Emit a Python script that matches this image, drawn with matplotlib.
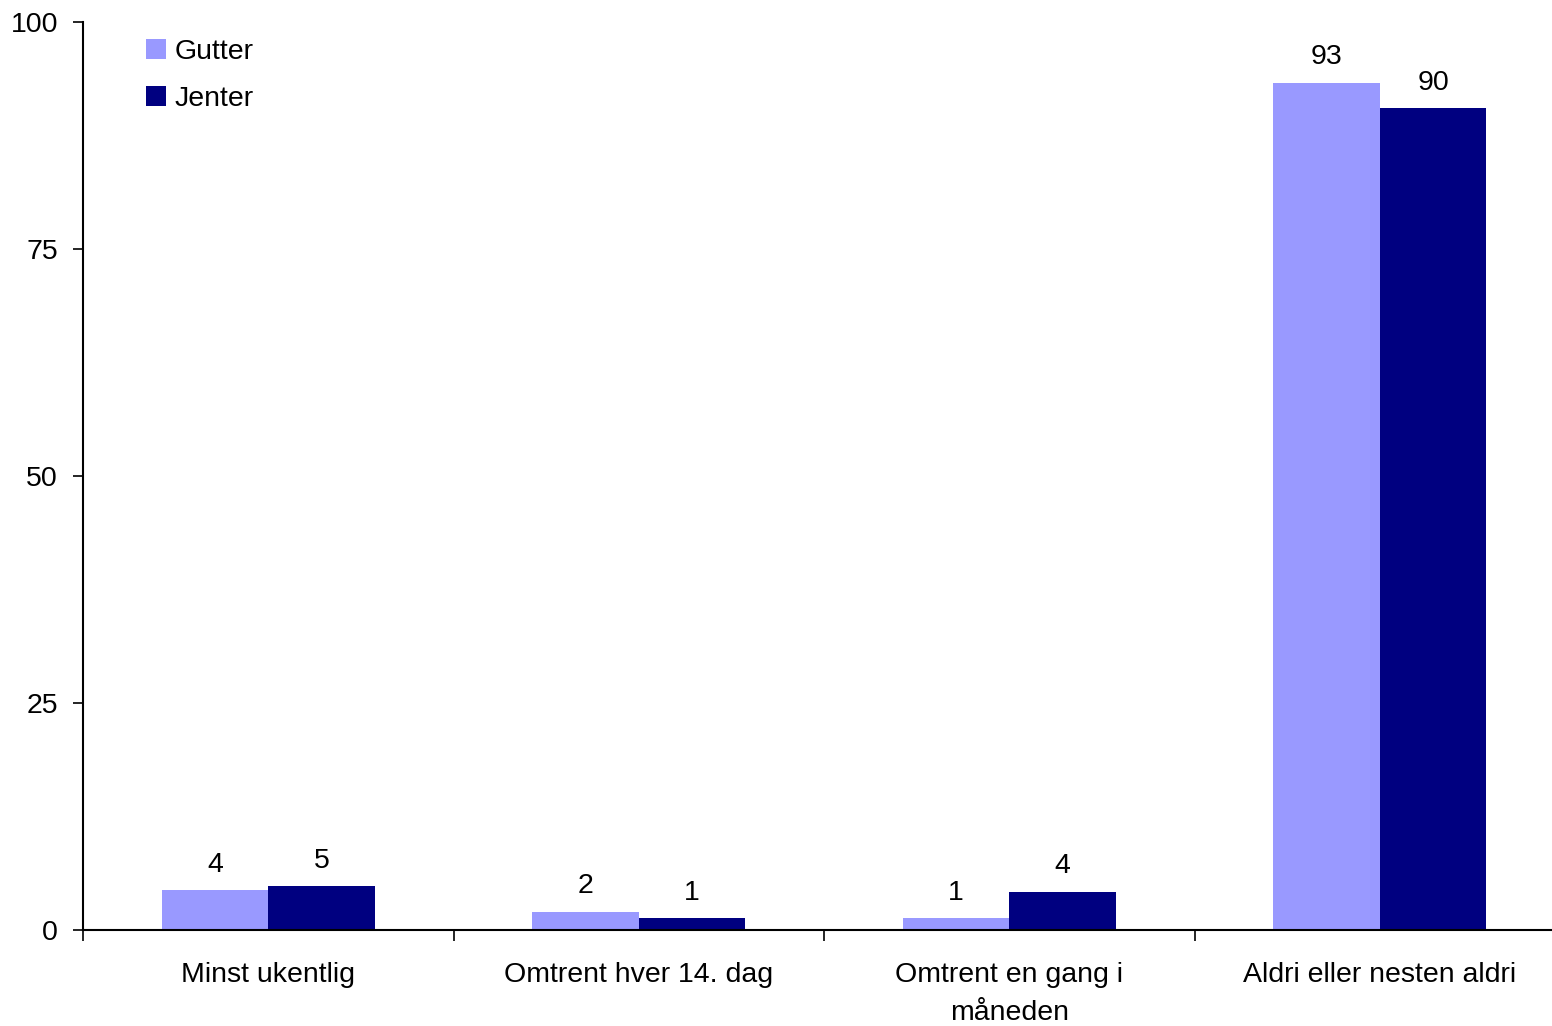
import matplotlib.pyplot as plt
import numpy as np

plt.rcParams['font.family'] = ['Liberation Sans', 'DejaVu Sans']

categories = ["Minst ukentlig", "Omtrent hver 14. dag", "Omtrent en gang i\nmåneden",
              "Aldri eller nesten aldri"]
gutter = [4.4, 2.0, 1.3, 93.3]
jenter = [4.8, 1.3, 4.2, 90.5]
yticks = [0, 25, 50, 75, 100]

c_gutter = "#9999FF"
c_jenter = "#000080"
fs = 20.5

fig = plt.figure(figsize=(15.52, 10.26), dpi=100)
ax = fig.add_axes([83 / 1552, 96 / 1026, 1482 / 1552, 908 / 1026])

x = np.arange(len(categories)) + 0.5
w = 0.288
b1 = ax.bar(x - w / 2, gutter, w, color=c_gutter, label="Gutter")
b2 = ax.bar(x + w / 2, jenter, w, color=c_jenter, label="Jenter")

for bars, vals in ((b1, gutter), (b2, jenter)):
    for b, v in zip(bars, vals):
        ax.annotate(f"{v:.0f}", (b.get_x() + b.get_width() / 2, v),
                    xytext=(0, 9), textcoords="offset points",
                    ha="center", va="bottom", fontsize=fs)

ax.set_xlim(0, 4)
ax.set_ylim(0, 100)
ax.set_yticks(yticks)
ax.tick_params(axis="y", labelsize=fs, length=7, width=1.2, pad=11)

ax.set_xticks(np.arange(5))
ax.set_xticklabels([])
ax.set_xticks(x, minor=True)
ax.set_xticklabels(categories, minor=True, fontsize=fs, linespacing=1.6)
ax.tick_params(axis="x", which="major", length=8, width=1.2)
ax.tick_params(axis="x", which="minor", length=0, pad=23)

for s in ("top", "right"):
    ax.spines[s].set_visible(False)
for s in ("left", "bottom"):
    ax.spines[s].set_linewidth(1.5)

ax.legend(loc="upper left", bbox_to_anchor=(0.0255, 1.01), frameon=False,
          fontsize=fs, handlelength=0.7, handleheight=0.7, handletextpad=0.3,
          labelspacing=0.75)

fig.savefig("out.png", dpi=100)
